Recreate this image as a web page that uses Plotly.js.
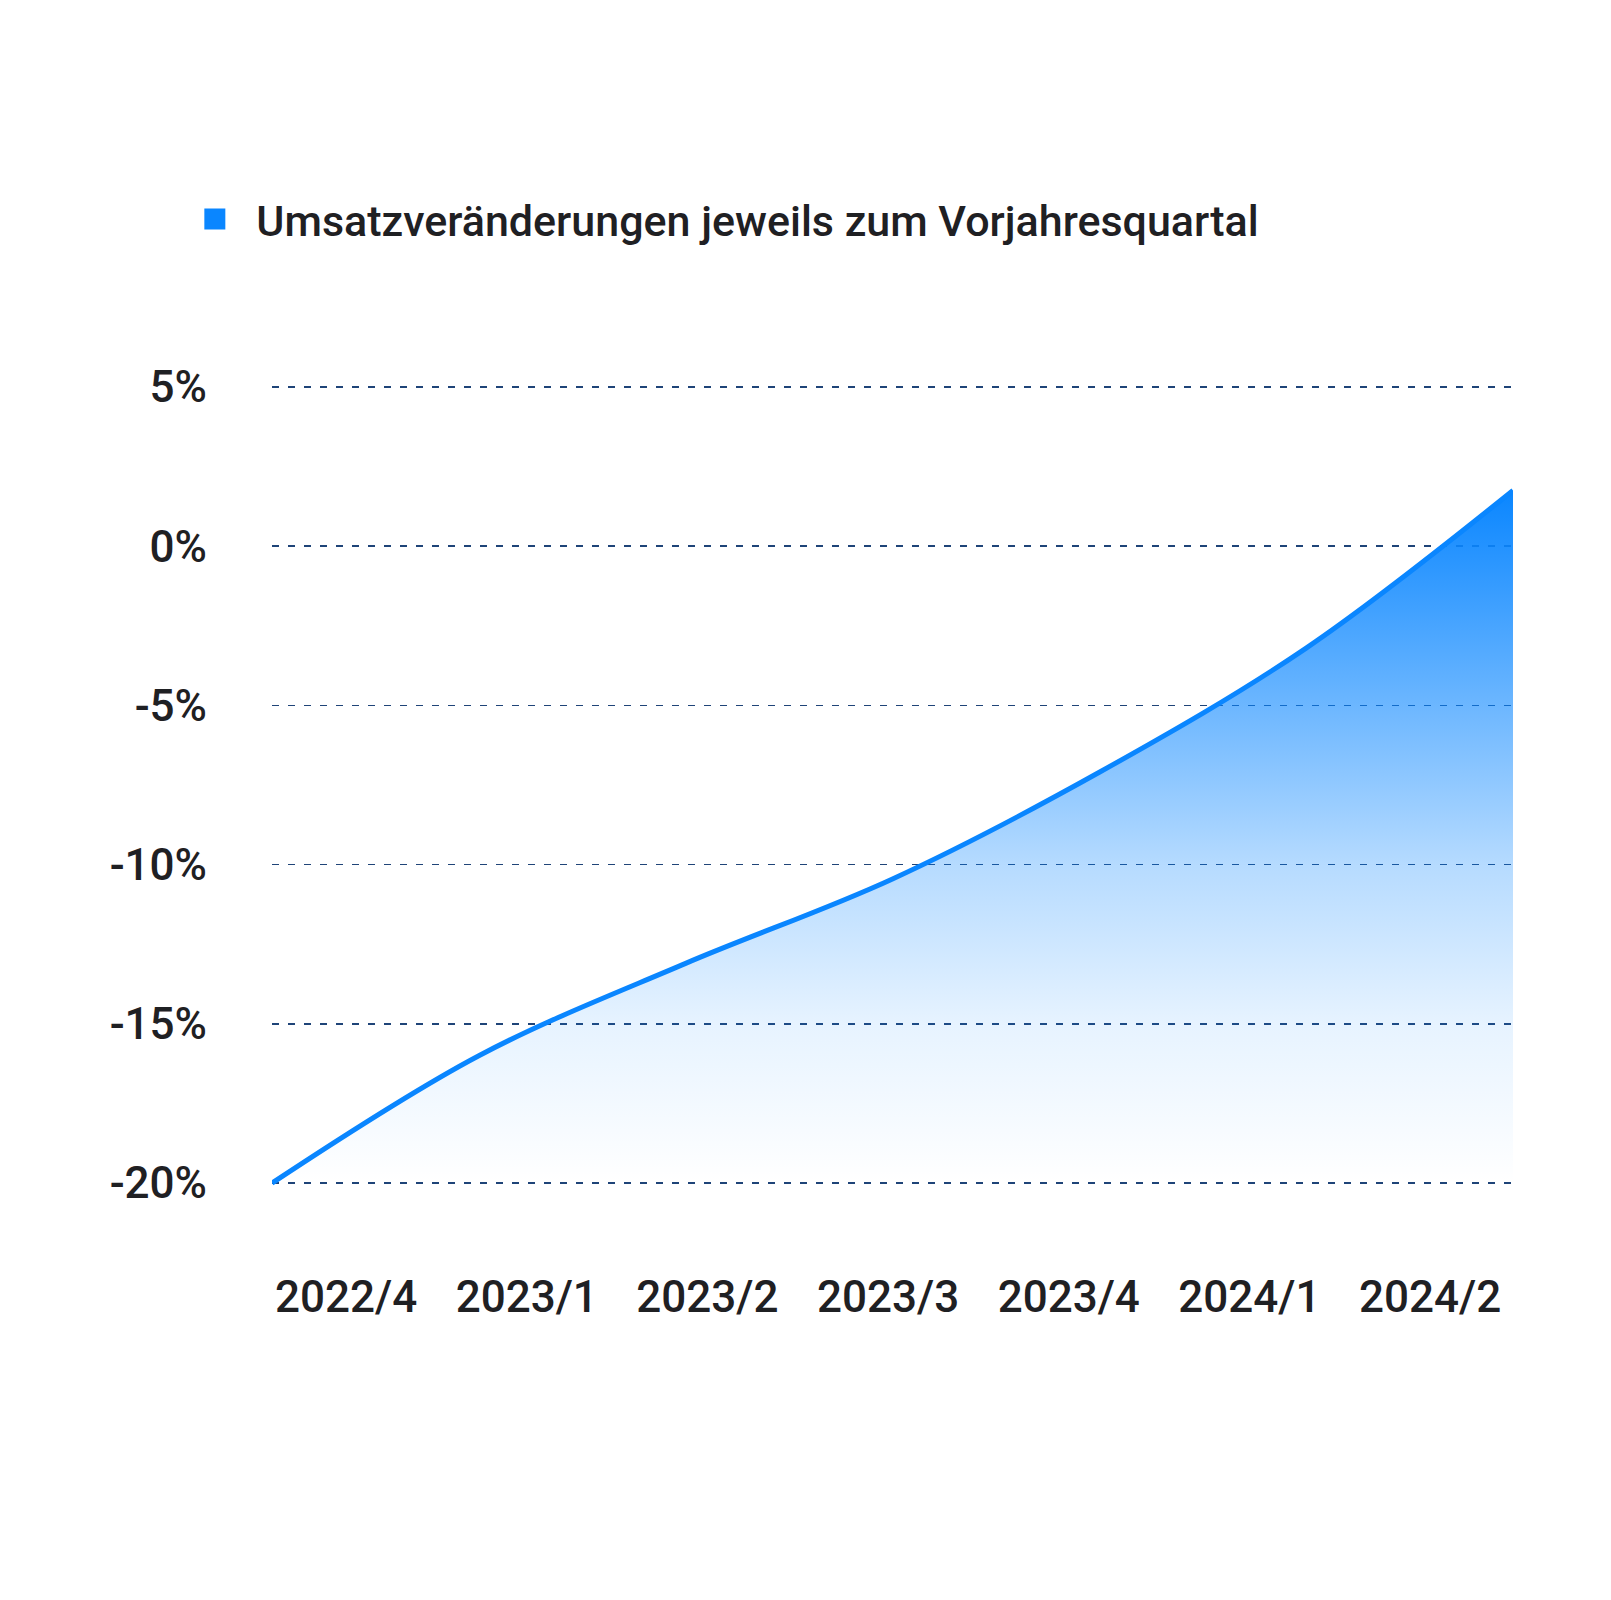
<!DOCTYPE html>
<html>
<head>
<meta charset="utf-8">
<script src="https://cdn.plot.ly/plotly-3.0.1.min.js"></script>
<style>
  html, body { margin: 0; padding: 0; background: #ffffff; }
  #chart { width: 1611px; height: 1600px; }
</style>
</head>
<body>
<div id="chart"></div>
<script>
// ---- data ----
const quarters = ["2022/4", "2023/1", "2023/2", "2023/3", "2023/4", "2024/1", "2024/2"];
const revenueChange = [-20, -16.0, -13.1, -10.45, -7.1, -3.2, 1.75];
const seriesName = "Umsatzveränderungen jeweils zum Vorjahresquartal";
const yTickValues = [-20, -15, -10, -5, 0, 5];
const yTickLabels = ["-20%", "-15%", "-10%", "-5%", "0%", "5%"];
const floorValue = -20;

// ---- style ----
const BLUE = "#0a86ff";
const TEXT = "#1f2023";
const GRID = "#1f4478";
const FONT = "Roboto, 'Noto Sans', sans-serif";

const floorTrace = {
  x: quarters,
  y: quarters.map(() => floorValue),
  type: "scatter",
  mode: "lines",
  line: { width: 0, color: "rgba(0,0,0,0)" },
  hoverinfo: "skip",
  showlegend: false,
  xaxis: "x",
  yaxis: "y"
};

const mainTrace = {
  x: quarters,
  y: revenueChange,
  type: "scatter",
  mode: "lines",
  line: { color: BLUE, width: 5, shape: "spline", smoothing: 1 },
  fill: "tonexty",
  fillgradient: {
    type: "vertical",
    colorscale: [
      [0, "rgba(10,134,255,0)"],
      [0.23, "rgba(10,134,255,0.1)"],
      [0.46, "rgba(10,134,255,0.3)"],
      [0.69, "rgba(10,134,255,0.6)"],
      [1, "rgba(10,134,255,1)"]
    ]
  },
  showlegend: false,
  name: seriesName,
  xaxis: "x",
  yaxis: "y"
};

const labelIdx = quarters.map((q, i) => i);

const legendTrace = {
  x: [null],
  y: [null],
  type: "scatter",
  mode: "markers",
  name: seriesName,
  marker: { symbol: "square", size: 16, color: BLUE, line: { color: BLUE, width: 5 } },
  showlegend: true,
  hoverinfo: "skip",
  xaxis: "x2",
  yaxis: "y"
};

const layout = {
  width: 1611,
  height: 1600,
  paper_bgcolor: "#ffffff",
  plot_bgcolor: "#ffffff",
  margin: { l: 272, r: 98, t: 371, b: 401, pad: 0 },
  font: { family: FONT, color: TEXT },
  showlegend: true,
  legend: {
    orientation: "h",
    x: -0.0795,
    xanchor: "left",
    y: 1.1834,
    yanchor: "middle",
    itemwidth: 73,
    font: { family: FONT, size: 43, color: TEXT, weight: 500 },
    bgcolor: "rgba(0,0,0,0)"
  },
  xaxis: {
    type: "category",
    range: [0, 6],
    showticklabels: false,
    ticks: "",
    showgrid: false,
    zeroline: false,
    showline: false,
    fixedrange: true
  },
  xaxis2: {
    type: "linear",
    anchor: "y",
    overlaying: "x",
    side: "bottom",
    range: [-0.41, 6.459],
    tickmode: "array",
    tickvals: labelIdx,
    ticktext: quarters,
    ticks: "",
    ticklabelstandoff: 68,
    tickfont: { family: FONT, size: 44, color: TEXT, weight: 500 },
    showgrid: false,
    zeroline: false,
    showline: false,
    fixedrange: true
  },
  yaxis: {
    range: [-20.5, 5.5],
    tickmode: "array",
    tickvals: yTickValues,
    ticktext: yTickLabels,
    ticks: "",
    ticklabelstandoff: 64,
    tickfont: { family: FONT, size: 44, color: TEXT, weight: 500 },
    showgrid: true,
    gridcolor: GRID,
    gridwidth: 1.5,
    griddash: "7px,9px",
    zeroline: false,
    showline: false,
    fixedrange: true
  }
};

Plotly.newPlot("chart", [floorTrace, mainTrace, legendTrace], layout, { displayModeBar: false, staticPlot: true });
</script>
</body>
</html>
